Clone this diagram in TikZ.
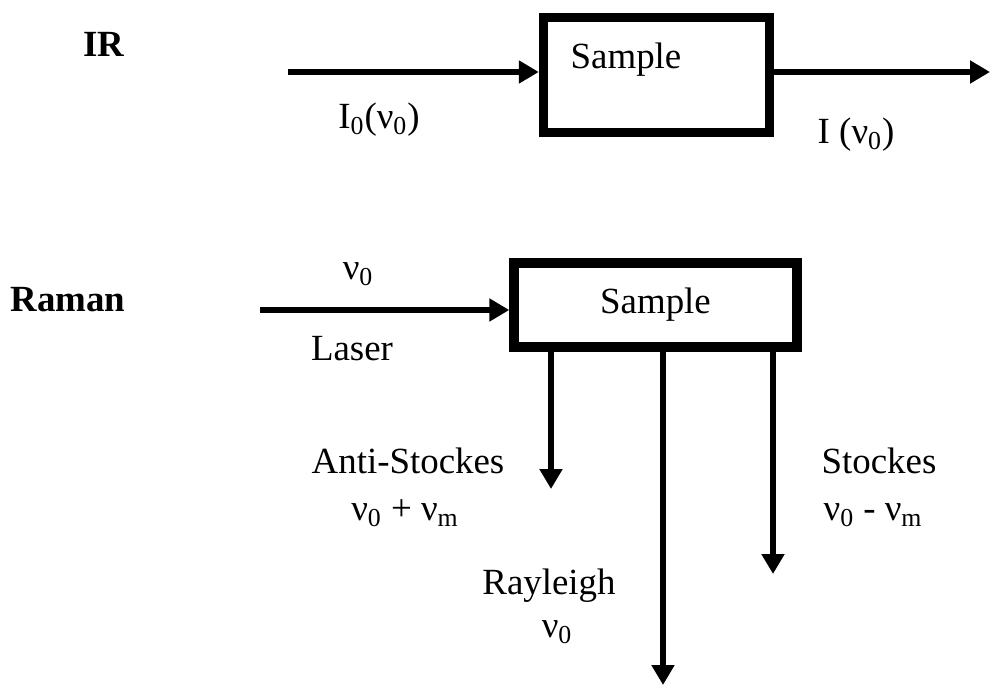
\documentclass[tikz,border=0pt]{standalone}
\usepackage{fontspec}
\setmainfont{Liberation Serif}
\usepackage{tikz}
\usetikzlibrary{arrows.meta, positioning}

\begin{document}
\begin{tikzpicture}[
  x=0.02cm, y=-0.02cm,
  box/.style={
    draw, line width=5.4pt, inner sep=0pt,
  },
  lbl/.style={
    font=\fontsize{21}{25}\selectfont, inner sep=0pt,
  },
  head/.style={
    font=\fontsize{21}{25}\selectfont\bfseries, inner sep=0pt,
  },
  ray/.style={
    line width=3.3pt,
    -{Triangle[length=0.4cm, width=0.44cm]},
  }
]
\useasboundingbox (0,0) rectangle (990,685);

% IR
\node[head] (irlbl) at (104,44) {IR};
\node[box, minimum width=4.52cm, minimum height=2.3cm] (irbox) at (656.5,75) {};
\node[lbl] (irtxt) at (626,60) {Sample};
\coordinate (irin) at (288,72);
\coordinate (irout) at (990,72);
\draw[ray] (irin) -- (irin -| irbox.west);
\draw[ray] (irout -| irbox.east) -- (irout);
\node[lbl] (i0) at (379,120) {I\textsubscript{0}(ν\textsubscript{0})};
\node[lbl] (i1) at (856,135) {I (ν\textsubscript{0})};

% Raman
\node[head] (ramanlbl) at (68,300) {Raman};
\node[box, minimum width=5.66cm, minimum height=1.68cm, lbl] (rbox) at (655.5,305) {Sample};
\coordinate (rin) at (260,310);
\draw[ray] (rin) -- (rin -| rbox.west);
\node[lbl] (nu0) at (358,274) {ν\textsubscript{0}};
\node[lbl] (laser) at (352,349) {Laser};

\coordinate (anti) at (551,489);
\coordinate (rayl) at (663,685);
\coordinate (stok) at (773,574);
\draw[ray] (rbox.south -| anti) -- (anti);
\draw[ray] (rbox.south -| rayl) -- (rayl);
\draw[ray] (rbox.south -| stok) -- (stok);

\node[lbl] (antitxt) at (408,461) {Anti-Stockes};
\node[lbl] (antinu) at (405,513) {ν\textsubscript{0} + ν\textsubscript{m}};
\node[lbl] (stoktxt) at (879,461) {Stockes};
\node[lbl] (stoknu) at (873,515) {ν\textsubscript{0} - ν\textsubscript{m}};
\node[lbl] (rayltxt) at (549,586) {Rayleigh};
\node[lbl] (raylnu) at (557,632) {ν\textsubscript{0}};
\end{tikzpicture}
\end{document}
